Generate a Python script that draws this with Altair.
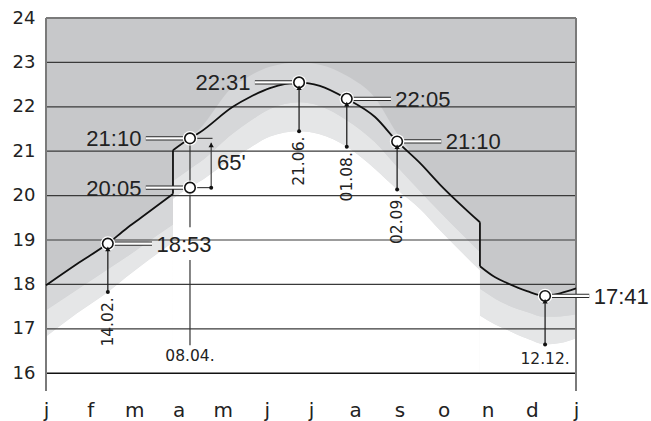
import json
import altair as alt
import pandas as pd

# ---------------- data ----------------
MONTH_LABELS = ["j", "f", "m", "a", "m", "j", "j", "a", "s", "o", "n", "d", "j"]
Y_TICKS = [16, 17, 18, 19, 20, 21, 22, 23, 24]
GRID_LINES = [16, 17, 18, 19, 20, 21, 22, 23]

# sample positions in months (0 = 1 Jan, 12 = 31 Dec); repeated x = summer-time switch
X = [0, 0.7, 1.40, 1.81, 2.15, 2.875, 2.875, 3.26, 3.48, 4.23, 4.62, 5.07, 5.73, 6.2,
     6.81, 7.45, 7.95, 8.47, 8.92, 9.825, 9.825, 10.17, 10.44, 10.89, 11.30, 11.64, 12.0]
SEGMENT = [0, 0, 0, 0, 0, 0, 1, 1, 1, 1, 1, 1, 1, 1,
           1, 1, 1, 1, 1, 1, 2, 2, 2, 2, 2, 2, 2]
# black curve (clock time)
SUNSET = [17.98, 18.46, 18.92, 19.25, 19.5, 20.04, 21.02, 21.29, 21.42, 22.0, 22.22, 22.42, 22.55, 22.47,
          22.18, 21.77, 21.22, 20.73, 20.25, 19.40, 18.41, 18.16, 18.03, 17.85, 17.74, 17.8, 17.91]
# top of the mid-grey band
BAND_TOP = [17.98, 18.46, 18.92, 19.25, 19.5, 20.04, 21.02, 21.29, 21.5, 22.45, 22.7, 22.9, 23.0, 22.95,
            22.7, 22.2, 21.4, 20.73, 20.25, 19.40, 18.41, 18.16, 18.03, 17.85, 17.74, 17.8, 17.91]
# boundary mid-grey / light-grey
BAND_MID = [17.42, 17.88, 18.34, 18.61, 18.85, 19.35, 20.33, 20.6, 20.75, 21.4, 21.68, 21.95, 22.1, 22.02,
            21.7, 21.2, 20.65, 20.1, 19.63, 18.73, 17.9, 17.68, 17.54, 17.38, 17.27, 17.28, 17.33]
# boundary light-grey / white
BAND_LOW = [16.83, 17.35, 17.83, 18.16, 18.42, 18.95, 19.93, 20.2, 20.32, 20.85, 21.08, 21.33, 21.45, 21.38,
            21.1, 20.6, 20.14, 19.7, 19.22, 18.32, 17.3, 17.1, 16.98, 16.78, 16.65, 16.68, 16.79]

# marked times
ANN_X = [1.40, 3.26, 3.26, 5.73, 6.81, 7.95, 11.30]
ANN_Y = [18.92, 20.18, 21.29, 22.55, 22.18, 21.22, 17.74]
ANN_TEXT = ["18:53", "20:05", "21:10", "22:31", "22:05", "21:10", "17:41"]
ANN_SIDE = [1, -1, -1, -1, 1, 1, 1]

# dated arrows
DATE_X = [1.40, 5.73, 6.81, 7.95, 11.30]
DATE_TOP = [18.92, 22.55, 22.18, 21.22, 17.74]
DATE_BASE = [17.83, 21.45, 21.10, 20.14, 16.65]
DATE_TEXT = ["14.02.", "21.06.", "01.08.", "02.09.", "12.12."]
DATE_ROTATED = [True, True, True, True, False]

APRIL_X = 3.26
APRIL_TOP = 21.29
APRIL_LOW = 20.18
APRIL_END = 16.63
APRIL_TEXT = "08.04."
DIFF_TEXT = "65'"

Y_MIN, Y_MAX = 15.6, 24

# ---------------- frames ----------------
curve = pd.DataFrame({"x": X, "seg": SEGMENT, "k": SUNSET, "m": BAND_TOP, "b": BAND_MID, "c": BAND_LOW})
curve["base"] = 16.0

xs = alt.Scale(domain=[0, 12], nice=False, zero=False)
ys = alt.Scale(domain=[Y_MIN, Y_MAX], nice=False, zero=False)
label_expr = json.dumps(MONTH_LABELS) + "[datum.value]"
xaxis = alt.Axis(values=list(range(13)), labelExpr=label_expr, title=None, ticks=False, domain=False,
                 grid=False, labelFont="DejaVu Sans", labelFontSize=20, labelColor="#222",
                 labelPadding=25, labelBaseline="alphabetic", labelFlush=False, labelOverlap=False)
yaxis = alt.Axis(values=Y_TICKS, title=None, ticks=False, domain=False, grid=False,
                 labelFont="DejaVu Sans", labelFontSize=18, labelColor="#222", labelPadding=11)


def X_(f):
    return alt.X(f, type="quantitative", scale=xs, axis=xaxis)


def Y_(f):
    return alt.Y(f, type="quantitative", scale=ys, axis=yaxis)


def seg_layer(df, color, width):
    return alt.Chart(df).mark_rule(color=color, strokeWidth=width).encode(
        x=X_("x"), x2="x2", y=Y_("y"), y2="y2")


bg = alt.Chart(pd.DataFrame({"x": [0], "x2": [12], "y": [16], "y2": [24]})).mark_rect(
    color="#c7c8ca").encode(x=X_("x"), x2="x2", y=Y_("y"), y2="y2")

area_mid = alt.Chart(curve).mark_area(color="#d6d7d9", interpolate="monotone").encode(
    x=X_("x"), y=Y_("m"), y2="b", detail="seg:N")
area_light = alt.Chart(curve).mark_area(color="#e5e6e7", interpolate="monotone").encode(
    x=X_("x"), y=Y_("b"), y2="c", detail="seg:N")
area_white = alt.Chart(curve).mark_area(color="#ffffff", interpolate="monotone").encode(
    x=X_("x"), y=Y_("c"), y2="base", detail="seg:N")

grid_df = pd.DataFrame({"x": 0, "x2": 12, "y": GRID_LINES, "y2": GRID_LINES})
grid = seg_layer(grid_df[grid_df.y > 16], "#3a3a3a", 1.2)
grid16 = seg_layer(grid_df[grid_df.y == 16], "#111111", 1.4)

border_df = pd.DataFrame({"x": [0, 12, 0], "x2": [0, 12, 12],
                          "y": [Y_MIN, Y_MIN, 24], "y2": [24, 24, 24]})
border = seg_layer(border_df, "#7a7a7a", 2)

line = alt.Chart(curve).mark_line(color="#111111", strokeWidth=1.8, interpolate="monotone").encode(
    x=X_("x"), y=Y_("k"), detail="seg:N")
jump_rows = []
for i in range(1, len(X)):
    if X[i] == X[i - 1]:
        jump_rows.append({"x": X[i], "x2": X[i], "y": SUNSET[i - 1], "y2": SUNSET[i]})
jumps = seg_layer(pd.DataFrame(jump_rows), "#111111", 1.8)

# arrows from band edge up to the marked time
arr_df = pd.DataFrame({"x": DATE_X, "x2": DATE_X, "y": DATE_BASE, "y2": DATE_TOP})
arrows = seg_layer(arr_df, "#222222", 1.3)
# April vertical (broken behind the 18:53 label) and 65' dimension
apr_df = pd.DataFrame({"x": [APRIL_X, APRIL_X], "x2": [APRIL_X, APRIL_X],
                       "y": [APRIL_TOP, 18.55], "y2": [19.29, APRIL_END]})
apr_line = seg_layer(apr_df, "#333333", 1.2)
DIM_X = APRIL_X + 0.48
dim_df = pd.DataFrame({"x": [APRIL_X + 0.12, APRIL_X + 0.12, DIM_X],
                       "x2": [DIM_X + 0.03, DIM_X, DIM_X],
                       "y": [APRIL_TOP, APRIL_LOW, APRIL_LOW], "y2": [APRIL_TOP, APRIL_LOW, APRIL_TOP - 0.1]})
dim = seg_layer(dim_df, "#333333", 1.1)

dots_df = pd.DataFrame({"x": DATE_X + [DIM_X], "y": DATE_BASE + [APRIL_LOW]})
dots = alt.Chart(dots_df).mark_point(filled=True, size=16, color="#111111", opacity=1).encode(
    x=X_("x"), y=Y_("y"))

heads_df = pd.DataFrame({"x": DATE_X + [DIM_X], "y": [t - 0.12 for t in DATE_TOP] + [APRIL_TOP - 0.15]})
heads = alt.Chart(heads_df).mark_point(shape="triangle-up", filled=True, size=28, color="#111111",
                                        opacity=1).encode(x=X_("x"), y=Y_("y"))

# leader lines
lead_rows = []
for x, y, s in zip(ANN_X, ANN_Y, ANN_SIDE):
    lead_rows.append({"x": x + s * 0.13, "x2": x + s * 1.0, "y": y, "y2": y})
lead_df = pd.DataFrame(lead_rows)
lead_dark = seg_layer(lead_df, "#2a2a2a", 4.2)
lead_white = seg_layer(lead_df, "#ffffff", 2.2)

circ_df = pd.DataFrame({"x": ANN_X, "y": ANN_Y})
circ_halo = alt.Chart(circ_df).mark_point(filled=True, size=210, color="#ffffff", opacity=1).encode(
    x=X_("x"), y=Y_("y"))
circ = alt.Chart(circ_df).mark_point(filled=True, size=110, fill="#ffffff", stroke="#111111",
                                      strokeWidth=1.6, opacity=1).encode(x=X_("x"), y=Y_("y"))

# time labels
lab_df = pd.DataFrame({"x": [x + s * 1.1 for x, s in zip(ANN_X, ANN_SIDE)], "y": ANN_Y, "t": ANN_TEXT,
                       "s": ANN_SIDE})
lab_right = alt.Chart(lab_df[lab_df.s > 0]).mark_text(
    align="left", baseline="middle", font="Liberation Sans", fontSize=22, color="#222222", dy=1).encode(
    x=X_("x"), y=Y_("y"), text="t")
lab_left = alt.Chart(lab_df[lab_df.s < 0]).mark_text(
    align="right", baseline="middle", font="Liberation Sans", fontSize=22, color="#222222", dy=1).encode(
    x=X_("x"), y=Y_("y"), text="t")
diff_lab = alt.Chart(pd.DataFrame({"x": [DIM_X + 0.13], "y": [20.73], "t": [DIFF_TEXT]})).mark_text(
    align="left", baseline="middle", font="Liberation Sans", fontSize=22, color="#222222").encode(
    x=X_("x"), y=Y_("y"), text="t")

# date labels
rot_df = pd.DataFrame({"x": [x for x, r in zip(DATE_X, DATE_ROTATED) if r],
                       "y": [b - 0.12 for b, r in zip(DATE_BASE, DATE_ROTATED) if r],
                       "t": [t for t, r in zip(DATE_TEXT, DATE_ROTATED) if r]})
rot_lab = alt.Chart(rot_df).mark_text(angle=270, align="right", baseline="middle", font="DejaVu Sans",
                                      fontSize=15.5, color="#222222").encode(x=X_("x"), y=Y_("y"), text="t")
hor_df = pd.DataFrame({"x": [x for x, r in zip(DATE_X, DATE_ROTATED) if not r] + [APRIL_X],
                       "y": [b - 0.33 for b, r in zip(DATE_BASE, DATE_ROTATED) if not r] + [APRIL_END - 0.25],
                       "t": [t for t, r in zip(DATE_TEXT, DATE_ROTATED) if not r] + [APRIL_TEXT]})
hor_lab = alt.Chart(hor_df).mark_text(align="center", baseline="middle", font="DejaVu Sans",
                                      fontSize=15.5, color="#222222").encode(x=X_("x"), y=Y_("y"), text="t")

chart = alt.layer(
    bg, area_mid, area_light, area_white, grid, grid16, border, line, jumps,
    arrows, apr_line, dim, dots, lead_dark, lead_white, circ_halo, circ, heads,
    lab_right, lab_left, diff_lab, rot_lab, hor_lab,
).properties(
    width=530, height=373,
    padding={"left": 46, "top": 18, "right": 75, "bottom": 30},
    autosize=alt.AutoSizeParams(type="none"),
    background="#ffffff",
).configure_view(stroke=None)

chart.save("out.html", embed_options={"renderer": "svg", "actions": False})
